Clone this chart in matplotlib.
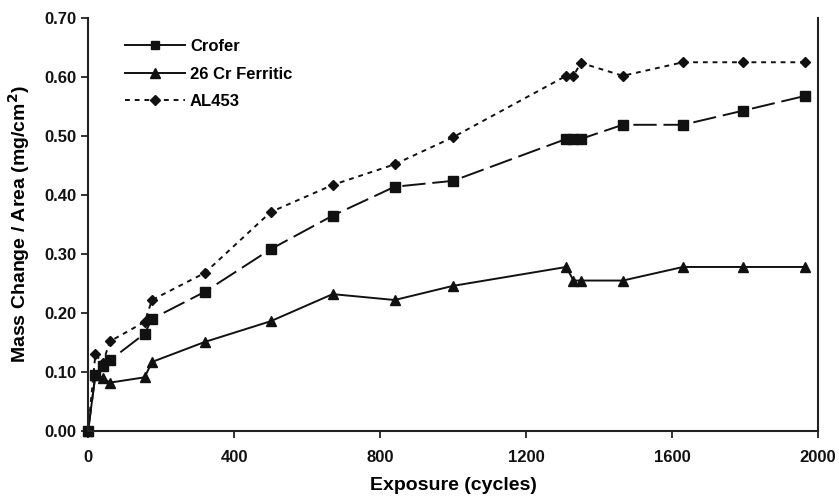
import matplotlib.pyplot as plt
from matplotlib.lines import Line2D

plt.rcParams['font.family'] = ['Liberation Sans', 'DejaVu Sans']
plt.rcParams['font.weight'] = 'bold'

cycles = [0, 20, 40, 60, 155, 175, 320, 500, 670, 840, 1000, 1310, 1330, 1350, 1465, 1630, 1795, 1965]
crofer = [0, 0.095, 0.11, 0.12, 0.165, 0.19, 0.236, 0.308, 0.365, 0.414, 0.424, 0.495, 0.495, 0.495, 0.519, 0.519, 0.543, 0.568]
cr26 = [0, 0.095, 0.09, 0.082, 0.091, 0.117, 0.151, 0.186, 0.232, 0.222, 0.246, 0.278, 0.255, 0.255, 0.255, 0.278, 0.278, 0.278]
al453 = [0, 0.13, 0.115, 0.152, 0.185, 0.222, 0.268, 0.371, 0.417, 0.452, 0.498, 0.602, 0.602, 0.624, 0.602, 0.625, 0.625, 0.625]

fig = plt.figure(figsize=(8.39, 5), dpi=100)
ax = fig.add_axes([0.105, 0.138, 0.870, 0.826])

k = '#111111'
ax.plot(cycles, crofer, color=k, lw=1.4, marker='s', ms=6.5, dashes=(12, 3.5), clip_on=False)
ax.plot(cycles, cr26, color=k, lw=1.4, marker='^', ms=7.5, clip_on=False)
ax.plot(cycles, al453, color=k, lw=1.4, marker='D', ms=5.5, dashes=(2.5, 2.5), clip_on=False)

handles = [Line2D([], [], color=k, lw=1.4, marker='s', ms=6),
           Line2D([], [], color=k, lw=1.4, marker='^', ms=7),
           Line2D([], [], color=k, lw=1.4, marker='D', ms=5, dashes=(2.5, 2.5))]
ax.legend(handles, ['Crofer', '26 Cr Ferritic', 'AL453'], loc='upper left',
          bbox_to_anchor=(0.03, 0.985), frameon=False, handlelength=3.6,
          fontsize=12, labelspacing=0.75, handletextpad=0.3)

ax.set_xlim(0, 2000)
ax.set_ylim(0, 0.70)
ax.set_xticks([0, 400, 800, 1200, 1600, 2000])
ax.set_yticks([0, 0.1, 0.2, 0.3, 0.4, 0.5, 0.6, 0.7])
ax.set_yticklabels(['%.2f' % v for v in ax.get_yticks()])
ax.tick_params(direction='out', length=5, width=1.2, labelsize=12, colors=k)
ax.tick_params(axis='x', pad=9)
ax.spines['top'].set_visible(False)
for s in ['left', 'bottom', 'right']:
    ax.spines[s].set_linewidth(1.5)
    ax.spines[s].set_color('#222222')

ax.set_xlabel('Exposure (cycles)', fontsize=14, fontweight='bold', labelpad=8)
ax.set_ylabel('Mass Change / Area (mg/cm$^{\\mathbf{2}}$)', fontsize=14, fontweight='bold', labelpad=9)

fig.savefig('out.png', dpi=100)
